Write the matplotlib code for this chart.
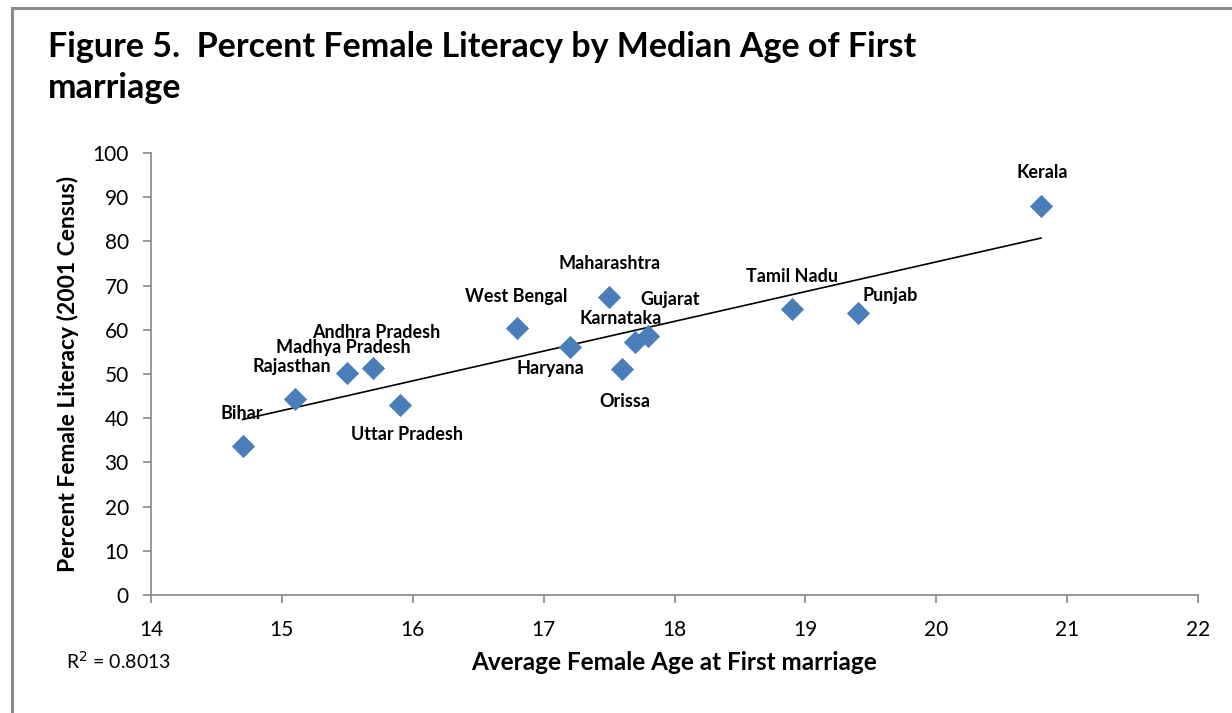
import matplotlib
matplotlib.use("Agg")
import matplotlib.pyplot as plt
import numpy as np

plt.rcParams['font.family'] = ['Lato', 'DejaVu Sans']

# state data
states = ["Bihar", "Rajasthan", "Madhya Pradesh", "Andhra Pradesh", "Uttar Pradesh",
          "West Bengal", "Haryana", "Maharashtra", "Orissa", "Karnataka", "Gujarat",
          "Tamil Nadu", "Punjab", "Kerala"]
age = [14.7, 15.1, 15.5, 15.7, 15.9, 16.8, 17.2, 17.5, 17.6, 17.7, 17.8, 18.9, 19.4, 20.8]
literacy = [33.6, 44.4, 50.2, 51.3, 42.9, 60.4, 56.2, 67.5, 51.1, 57.3, 58.5, 64.7, 63.8, 88.1]
r2_text = "R$^2$ = 0.8013"

# label offsets in pixels (dx, dy) relative to the marker
label_offsets = {
    "Bihar": (-1, 33), "Rajasthan": (-3, 32), "Madhya Pradesh": (-4, 26),
    "Andhra Pradesh": (3, 36), "Uttar Pradesh": (7, -29), "West Bengal": (-1, 32),
    "Haryana": (-19, -22), "Maharashtra": (0, 33), "Orissa": (3, -32),
    "Karnataka": (-15, 23), "Gujarat": (22, 37), "Tamil Nadu": (0, 33),
    "Punjab": (32, 18), "Kerala": (1, 33),
}

W, H = 1232, 713
fig = plt.figure(figsize=(W / 100, H / 100), dpi=100)
ax = fig.add_axes([151 / W, 1 - 595 / H, (1198 - 151) / W, (595 - 153) / H])

ax.scatter(age, literacy, marker='D', s=140, color='#4A7EBB', zorder=3, linewidths=0)

# linear trendline
coef = np.polyfit(age, literacy, 1)
xs = np.array([min(age), max(age)])
ax.plot(xs, np.polyval(coef, xs), color='black', lw=1.2, zorder=2)

for name, x, y in zip(states, age, literacy):
    dx, dy = label_offsets[name]
    ax.annotate(name, (x, y), xytext=(dx, dy), textcoords='offset pixels',
                ha='center', va='center', fontsize=13, fontweight='bold')

ax.set_xlim(14, 22)
ax.set_ylim(0, 100)
ax.set_xticks(range(14, 23))
ax.set_yticks(range(0, 101, 10))
for s in ['top', 'right']:
    ax.spines[s].set_visible(False)
for s in ['left', 'bottom']:
    ax.spines[s].set_color('#868686')
    ax.spines[s].set_linewidth(1.2)
ax.tick_params(axis='both', colors='#868686', length=6, width=1.2, labelcolor='black',
               labelsize=15)
ax.tick_params(axis='x', pad=12)
ax.tick_params(axis='y', pad=10)

ax.set_xlabel("Average Female Age at First marriage", fontsize=17.5, fontweight='bold',
              labelpad=8)
ax.set_ylabel("Percent Female Literacy (2001 Census)", fontsize=16.5, fontweight='bold',
              labelpad=10)

fig.text(66 / W, 1 - 661 / H, r2_text, fontsize=14, va='center', ha='left')

fig.text(48 / W, 1 - 47 / H, "Figure 5.  Percent Female Literacy by Median Age of First",
         fontsize=24.5, fontweight='bold', va='center', ha='left')
fig.text(48 / W, 1 - 88 / H, "marriage", fontsize=24.5, fontweight='bold',
         va='center', ha='left')

# chart frame (top and left edges visible)
fig.add_artist(plt.Line2D([12 / W, 12 / W], [0, 1 - 8 / H], color='#8c8c8c', lw=2.2,
                          transform=fig.transFigure))
fig.add_artist(plt.Line2D([12 / W, 1], [1 - 8 / H, 1 - 8 / H], color='#8c8c8c', lw=2.2,
                          transform=fig.transFigure))

fig.savefig("out.png", dpi=100)
